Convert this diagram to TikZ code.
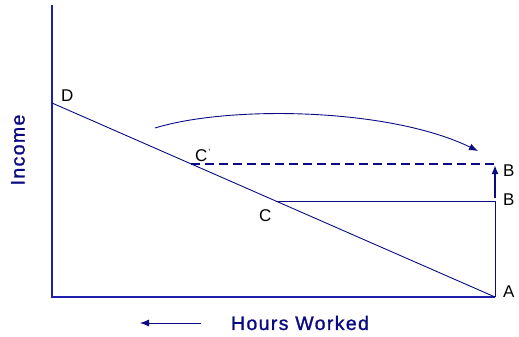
\documentclass[tikz,border=0pt]{standalone}
\usepackage{fontspec}
\setmainfont{Liberation Sans}
\usetikzlibrary{arrows.meta,calc}
\definecolor{navy}{RGB}{10,10,130}
\definecolor{axisblue}{RGB}{30,30,170}
\tikzset{
  lbl/.style={font=\fontsize{17}{17}\selectfont, text=black, inner sep=0pt},
  axtitle/.style={font=\fontsize{19.5}{19.5}\selectfont\addfontfeatures{LetterSpace=7,FakeBold=1.2}, text=navy, inner sep=0pt},
  thinline/.style={draw=navy, line width=0.9pt},
  axisline/.style={draw=axisblue, line width=1.3pt},
  tip/.style={-{Latex[length=9pt,width=7pt]}}
}
\begin{document}
\begin{tikzpicture}[x=1pt,y=-1pt]
\useasboundingbox (0,0) rectangle (519,337);
\coordinate (Top) at (52,5);
\coordinate (O) at (52,297);
\coordinate (A) at (495,297);
\coordinate (D) at (52,103);
\coordinate (Cp) at (191,164);
\coordinate (C) at (276,201);
\coordinate (B1) at (495,164);
\coordinate (B2) at (495,201);
\coordinate (B3) at (495,198);
\coordinate (Bm) at (495,165);
\coordinate (S) at (155,128);
\coordinate (E) at (478,151);
\coordinate (H1) at (201,323);
\coordinate (H0) at (140,323);
% axes
\draw[axisline] (Top) -- (O) -- (A);
% budget line
\draw[thinline] (D) -- (A);
% horizontal lines
\draw[thinline] (C) -- (B2);
\draw[draw=navy, line width=2pt, dash pattern=on 9pt off 5pt] (Cp) -- (B1);
% vertical
\draw[thinline] (A) -- (B2);
\draw[draw=navy, line width=2.6pt, tip] (B3) -- (Bm);
% curved arrow
\draw[thinline, tip] (S) .. controls (230,105) and (390,108) .. (E);
% hours worked arrow
\draw[thinline, tip] (H1) -- (H0);
% labels
\node[lbl, anchor=base west] (lD) at (61,101) {D};
\node[lbl, anchor=base west] (lCp) at (195,161) {C\kern1pt\raisebox{6pt}{\fontsize{9}{9}\selectfont\textquoteright}};
\node[lbl, anchor=base west] (lC) at (259,221) {C};
\node[lbl, anchor=base west] (lB1) at (503,176) {B};
\node[lbl, anchor=base west] (lB2) at (503,205) {B};
\node[lbl, anchor=base west] (lA) at (503,297) {A};
\node[axtitle, rotate=90, anchor=center] (inc) at (18,150) {Income};
\node[axtitle, anchor=center] (hw) at (300,323) {Hours Worked};
\end{tikzpicture}
\end{document}
